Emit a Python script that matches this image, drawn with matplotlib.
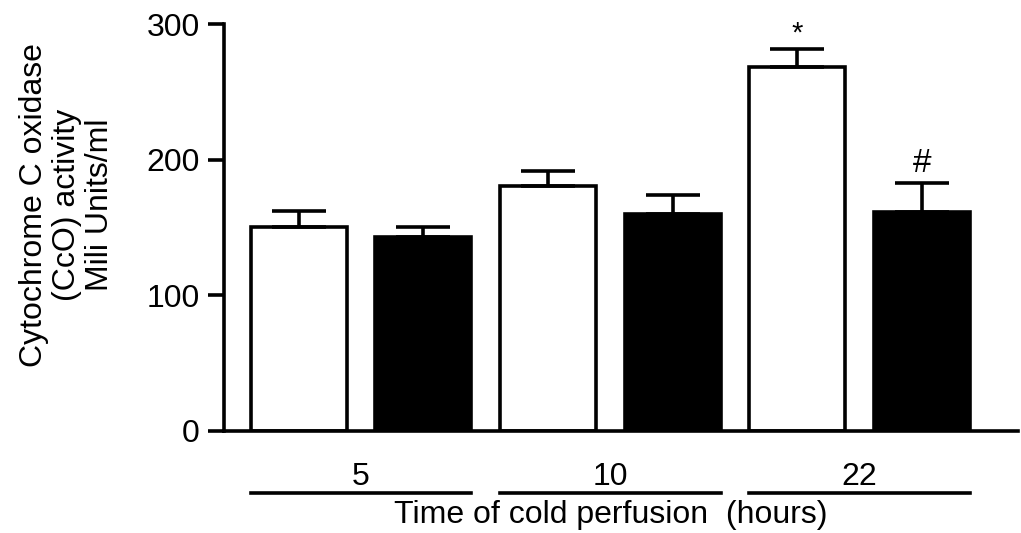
import matplotlib.pyplot as plt

plt.rcParams["font.family"] = ["Liberation Sans", "DejaVu Sans"]

# data
groups = ["5", "10", "22"]
white_vals = [150.5, 180.5, 268.5]
white_err = [12, 11.5, 13]
black_vals = [143, 160, 161.5]
black_err = [7.5, 14, 21]
marks = ["", "", "*"]
black_marks = ["", "", "#"]

fig = plt.figure(figsize=(10.21, 5.33), dpi=100)
ax = fig.add_axes([224/1021, 1-431/533, (1018-224)/1021, 407/533])

xw = [0, 2, 4]
xb = [1, 3, 5]
lw = 2.6
ekw = dict(elinewidth=lw, capthick=lw, ecolor="black")

ax.bar(xw, white_vals, width=0.77, color="white", edgecolor="black", linewidth=lw,
       yerr=[[0]*3, white_err], capsize=19.5, error_kw=ekw, zorder=2)
ax.bar(xb, black_vals, width=0.77, color="black", edgecolor="black", linewidth=lw,
       yerr=[[0]*3, black_err], capsize=19.5, error_kw=ekw, zorder=2)

for x, v, e, m in zip(xw, white_vals, white_err, marks):
    if m:
        ax.annotate(m, (x, v + e), xytext=(0, 1), textcoords="offset points",
                    ha="center", va="bottom", fontsize=21)
for x, v, e, m in zip(xb, black_vals, black_err, black_marks):
    if m:
        ax.annotate(m, (x, v + e), xytext=(0, 3), textcoords="offset points",
                    ha="center", va="bottom", fontsize=24)

ax.set_xlim(-0.6, 5.77)
ax.set_ylim(0, 300)
ax.set_yticks([0, 100, 200, 300])
ax.set_xticks([])
ax.spines["top"].set_visible(False)
ax.spines["right"].set_visible(False)
ax.spines["left"].set_linewidth(lw)
ax.spines["bottom"].set_linewidth(lw)
ax.tick_params(axis="y", direction="out", length=11.5, width=lw, labelsize=23, pad=6)

# group lines and labels under the axis
trans = ax.get_xaxis_transform()
for g, a, b in zip(groups, xw, xb):
    ax.plot([a - 0.385, b + 0.385], [-0.152, -0.152], color="black", lw=lw,
            transform=trans, clip_on=False)
    ax.text((a + b) / 2, -0.112, g, transform=trans, ha="center", va="center", fontsize=23)

ax.text(2.5, -0.207, "Time of cold perfusion  (hours)", transform=trans,
        ha="center", va="center", fontsize=23)

fig.text(67/1021, 1-205/533, "Cytochrome C oxidase\n(CcO) activity\nMili Units/ml",
         rotation=90, ha="center", va="center", multialignment="center",
         fontsize=23, linespacing=1.15)

fig.savefig("out.png", dpi=100)
